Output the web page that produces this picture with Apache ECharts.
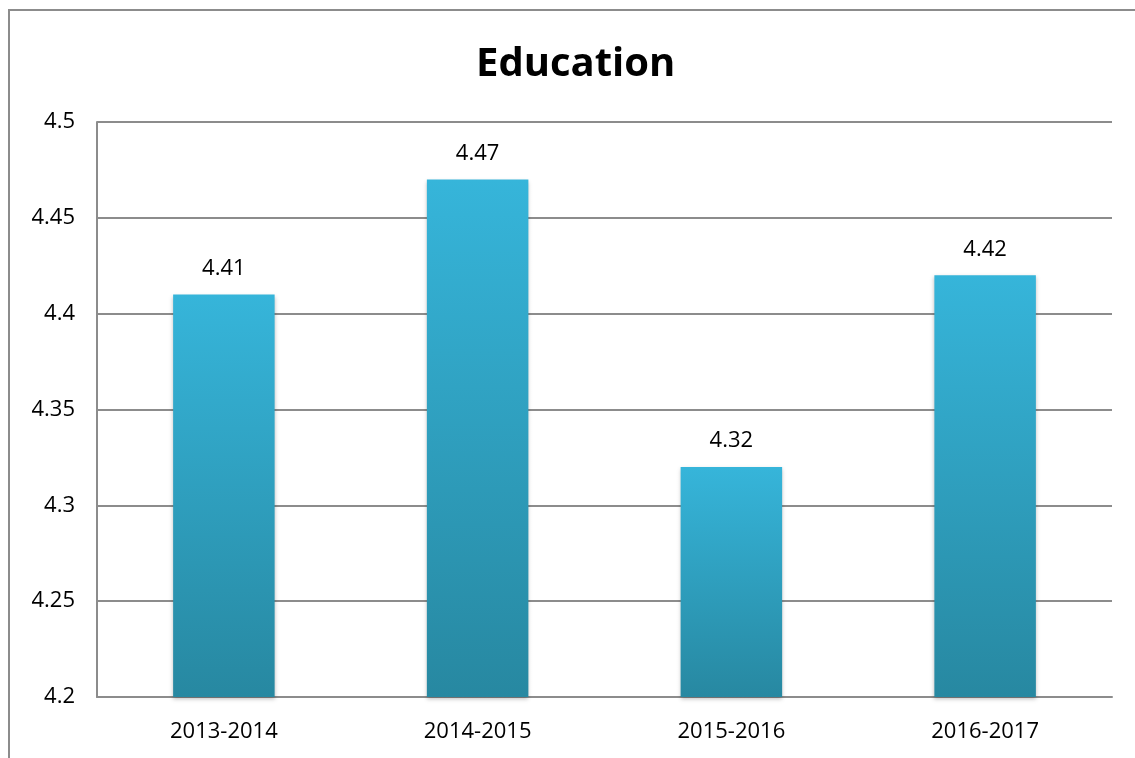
<!DOCTYPE html>
<html>
<head>
<meta charset="utf-8">
<script src="https://cdn.jsdelivr.net/npm/echarts@6/dist/echarts.min.js"></script>
<style>
  html, body { margin: 0; padding: 0; background: #fff; }
  #main { width: 1135px; height: 758px; }
</style>
</head>
<body>
<div id="main"></div>
<script>
// 数据
var years = ['2013-2014', '2014-2015', '2015-2016', '2016-2017'];
var scores = [4.41, 4.47, 4.32, 4.42];
var yMin = 4.2, yMax = 4.5, yStep = 0.05;

var myChart = echarts.init(document.getElementById('main'));

var option = {
    backgroundColor: '#fff',
    textStyle: { fontFamily: 'Open Sans, Liberation Sans, sans-serif' },
    title: {
        text: 'Education',
        left: 471,
        top: 40,
        textStyle: { fontSize: 40, fontWeight: 'bold', color: '#000', fontFamily: 'Open Sans, Liberation Sans, sans-serif' }
    },
    graphic: [
        {
            type: 'rect',
            shape: { x: 9, y: 10, width: 1150, height: 780 },
            style: { fill: 'none', stroke: '#8c8c8c', lineWidth: 2 },
            silent: true
        }
    ],
    grid: { left: 97, right: 23, top: 122, bottom: 61 },
    xAxis: {
        type: 'category',
        data: years,
        axisTick: { show: false },
        axisLine: { lineStyle: { color: '#8c8c8c', width: 2 } },
        axisLabel: { color: '#000', fontSize: 22, margin: 24 }
    },
    yAxis: {
        type: 'value',
        min: yMin,
        max: yMax,
        interval: yStep,
        axisLine: { show: true, lineStyle: { color: '#8c8c8c', width: 2 } },
        axisTick: { show: false },
        axisLabel: {
            color: '#000', fontSize: 22, margin: 22,
            formatter: function (v) { return String(+v.toFixed(2)); }
        },
        splitLine: { lineStyle: { color: '#8c8c8c', width: 2 } }
    },
    series: [{
        type: 'bar',
        data: scores,
        barWidth: '40%',
        itemStyle: {
            color: new echarts.graphic.LinearGradient(0, 0, 0, 1, [
                { offset: 0, color: '#36b5da' },
                { offset: 1, color: '#2788a1' }
            ]),
            shadowColor: 'rgba(0,0,0,0.25)',
            shadowBlur: 4,
            shadowOffsetY: 2
        },
        label: {
            show: true,
            position: 'top',
            distance: 15,
            color: '#000',
            fontSize: 22
        }
    }]
};

myChart.setOption(option);
</script>
</body>
</html>
